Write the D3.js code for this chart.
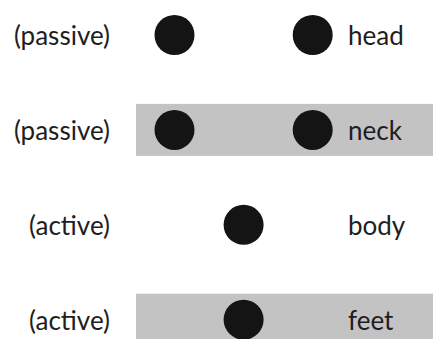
<!DOCTYPE html>
<html>
<head>
<meta charset="utf-8">
<script src="https://cdn.jsdelivr.net/npm/d3@7"></script>
<style>
  html, body { margin: 0; padding: 0; background: #fff; }
  svg { display: block; }
</style>
</head>
<body>
<svg id="chart" width="433" height="339"></svg>
<script>
// Data
const rows = ["head", "neck", "body", "feet"];
const voices = ["(passive)", "(passive)", "(active)", "(active)"];
const shaded = [false, true, false, true];
const dotPositions = [[-1, 1], [-1, 1], [0], [0]];

const W = 433, H = 339;
const svg = d3.select("#chart");

const y = d3.scalePoint().domain(rows).range([35, 319.7]);
const x = d3.scaleLinear().domain([-1, 1]).range([174.5, 312.7]);

const bandH = 52;
const bandLeft = 136;
const fontFamily = "Lato, 'Open Sans', sans-serif";

const g = svg.append("g");

// shaded bands
g.selectAll("rect.band")
  .data(rows.filter((r, i) => shaded[i]))
  .join("rect")
  .attr("class", "band")
  .attr("x", bandLeft)
  .attr("y", d => y(d) - bandH / 2)
  .attr("width", W - bandLeft)
  .attr("height", bandH)
  .attr("fill", "#c3c3c3");

// dots
const dots = rows.flatMap((r, i) => dotPositions[i].map(v => ({ row: r, v })));
g.selectAll("circle.dot")
  .data(dots)
  .join("circle")
  .attr("class", "dot")
  .attr("cx", d => x(d.v))
  .attr("cy", d => y(d.row))
  .attr("r", 20)
  .attr("fill", "#141414");

// left labels
g.selectAll("text.voice")
  .data(rows.map((r, i) => ({ row: r, label: voices[i] })))
  .join("text")
  .attr("class", "voice")
  .attr("x", 110)
  .attr("y", d => y(d.row))
  .attr("dy", "0.38em")
  .attr("text-anchor", "end")
  .attr("font-family", fontFamily)
  .attr("font-size", 26)
  .attr("fill", "#1e1e1e")
  .text(d => d.label);

// right labels
g.selectAll("text.part")
  .data(rows)
  .join("text")
  .attr("class", "part")
  .attr("x", 348)
  .attr("y", d => y(d))
  .attr("dy", "0.38em")
  .attr("text-anchor", "start")
  .attr("font-family", fontFamily)
  .attr("font-size", 26)
  .attr("fill", "#1e1e1e")
  .text(d => d);
</script>
</body>
</html>
